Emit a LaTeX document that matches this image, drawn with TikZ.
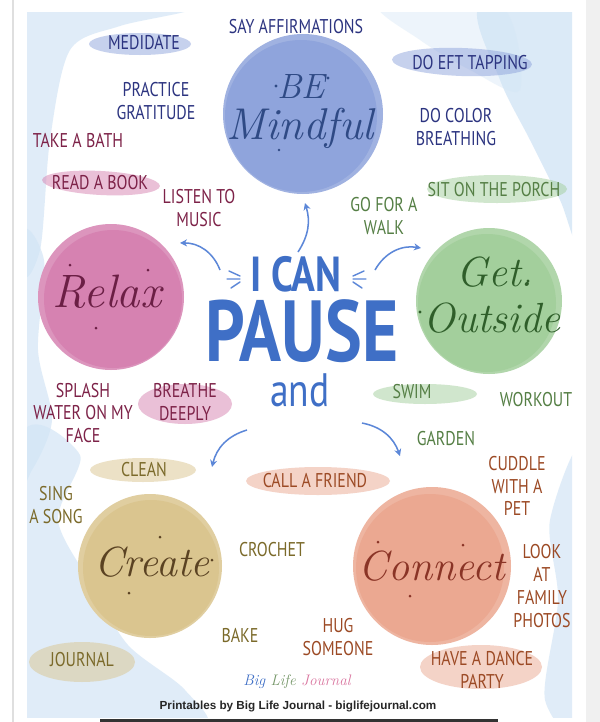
\documentclass[tikz,border=0pt]{standalone}
\usepackage{fontspec}
\usepackage{tikz}
\usetikzlibrary{arrows.meta,calc,positioning}
\newfontfamily\handfont[FakeStretch=0.8]{PT Sans}
\newfontfamily\footfont{Liberation Sans}

\definecolor{sky}{HTML}{D3E5F6}
\definecolor{pauseblue}{HTML}{3F6FC6}
\definecolor{arrowblue}{HTML}{5C87D8}
\definecolor{mindfill}{HTML}{8FA4DC}
\definecolor{mindtext}{HTML}{2C3480}
\definecolor{mindtitle}{HTML}{2F4A85}
\definecolor{relaxfill}{HTML}{D682B1}
\definecolor{relaxtext}{HTML}{7D2248}
\definecolor{relaxtitle}{HTML}{6B1F45}
\definecolor{outfill}{HTML}{A3CF9C}
\definecolor{outtext}{HTML}{557F45}
\definecolor{outtitle}{HTML}{2F5E2A}
\definecolor{createfill}{HTML}{DAC58F}
\definecolor{createtext}{HTML}{7B6A2A}
\definecolor{createtitle}{HTML}{5A4222}
\definecolor{connfill}{HTML}{EBA891}
\definecolor{conntext}{HTML}{9C4A25}
\definecolor{conntitle}{HTML}{8A3426}

\begin{document}
\begin{tikzpicture}[
  x=0.03cm, y=-0.03cm,
  >=Stealth,
  item/.style={font=\handfont\fontsize{17}{19.5}\selectfont,align=center,inner sep=0pt},
  minditem/.style={item,text=mindtext},
  relaxitem/.style={item,text=relaxtext},
  outitem/.style={item,text=outtext},
  createitem/.style={item,text=createtext},
  connitem/.style={item,text=conntext},
  title/.style={font=\itshape\fontsize{36}{36}\selectfont,inner sep=0pt},
  centreword/.style={text=pauseblue,inner sep=0pt,text depth=0pt},
  flow/.style={draw=arrowblue,line width=1.3pt,-{Stealth[length=6pt,width=6pt]}},
  brush/.style={opacity=0.5}
]
  \useasboundingbox (0,0) rectangle (600,722);

  % Page around the poster
  \fill[white] (0,0) rectangle (600,722);
  \fill[gray!12] (586,0) rectangle (600,722);
  \draw[gray!25,line width=1pt] (13,0) -- (13,722);
  \fill[black!80] (100,719) rectangle (498,722);

  % Watercolour background
  \begin{scope}
    \clip (27,12) rectangle (572,717);
    \fill[white] (27,12) rectangle (572,717);
    \fill[sky,opacity=.7] plot[smooth cycle] coordinates
      {(20,5) (190,8) (120,26) (70,50) (50,140) (40,250) (20,262)};
    \fill[sky,opacity=.8] plot[smooth cycle] coordinates
      {(480,5) (585,5) (585,250) (560,200) (530,140) (500,80)};
    \fill[sky,opacity=.4] plot[smooth cycle] coordinates
      {(380,5) (500,5) (520,90) (470,70) (420,40)};
    \fill[sky,opacity=.7] plot[smooth cycle] coordinates
      {(20,240) (44,260) (38,350) (52,420) (32,470) (20,470)};
    \fill[sky,opacity=.7] plot[smooth cycle] coordinates
      {(20,440) (80,455) (58,520) (92,585) (128,645) (185,690) (200,730) (20,730)};
    \fill[sky,opacity=.7] plot[smooth cycle] coordinates
      {(585,450) (550,520) (558,600) (545,700) (585,725)};
  \end{scope}

  % Circles
  \fill[mindfill!85] (303,114) circle (80);
  \fill[mindfill] (301,116) circle (76);
  \fill[relaxfill!85] (111,297) circle (73);
  \fill[relaxfill] (113,299) circle (69);
  \fill[outfill!85] (489,301) circle (73);
  \fill[outfill] (487,303) circle (69);
  \fill[createfill!85] (150,566) circle (72);
  \fill[createfill] (151,568) circle (68);
  \fill[connfill!85] (432,566) circle (79);
  \fill[connfill] (430,568) circle (74);

  % Circle titles
  \node[title,text=mindtitle,font=\itshape\fontsize{30}{30}\selectfont] (be) at (301,86) {BE};
  \node[title,text=mindtitle,font=\itshape\fontsize{38}{38}\selectfont] (mindful) at (300,128) {Mindful};
  \node[title,text=relaxtitle,font=\itshape\fontsize{40}{40}\selectfont] (relax) at (107,292) {Relax};
  \node[title,text=outtitle] (get) at (495,272) {Get.};
  \node[title,text=outtitle] (outside) at (492,318) {Outside};
  \node[title,text=createtitle] (create) at (152,562) {Create};
  \node[title,text=conntitle] (connect) at (432,566) {Connect};

  % Small dots round the titles
  \fill[mindtitle] (276,86) circle (1.6) (328,78) circle (1.6) (279,150) circle (1.4);
  \fill[relaxtitle] (70,265) circle (1.5) (148,270) circle (1.5) (96,328) circle (1.5);
  \fill[outtitle] (528,281) circle (1.6) (420,312) circle (1.6);
  \fill[createtitle] (160,537) circle (1.5) (212,560) circle (1.5) (129,593) circle (1.5);
  \fill[conntitle] (378,542) circle (1.5) (463,545) circle (1.5) (410,596) circle (1.5);

  % Centre words
  \node[centreword,font=\handfont\bfseries\fontsize{42}{42}\selectfont,text height=29pt] (ican) at (296,275) {I CAN};
  \node[centreword,font=\handfont\bfseries\fontsize{74}{74}\selectfont,text height=51pt] (pause) at (302,332) {PAUSE};
  \node[centreword,font=\handfont\fontsize{40}{40}\selectfont,text height=28pt] (and) at (300,390) {and};

  % Marks beside I CAN
  \draw[arrowblue,line width=1.2pt,line cap=round]
    (240,276) -- (229,271) (240,279) -- (227,279) (240,282) -- (231,288)
    (353,276) -- (364,271) (353,279) -- (366,279) (353,282) -- (362,288);

  % Arrows out of the centre
  \coordinate (upA) at (298,252);
  \coordinate (upB) at (305,203);
  \coordinate (leftA) at (220,270);
  \coordinate (leftB) at (180,243);
  \coordinate (rightA) at (375,270);
  \coordinate (rightB) at (421,248);
  \coordinate (dlA) at (247,430);
  \coordinate (dlB) at (212,467);
  \coordinate (drA) at (362,423);
  \coordinate (drB) at (400,456);
  \draw[flow] (upA) to[bend right=25] (upB);
  \draw[flow] (leftA) to[bend right=35] (leftB);
  \draw[flow] (rightA) to[bend left=35] (rightB);
  \draw[flow] (dlA) to[bend right=30] (dlB);
  \draw[flow] (drA) to[bend left=30] (drB);

  % Brush strokes behind some labels
  \fill[mindfill,brush] (140,44) ellipse (51 and 11);
  \fill[mindfill,brush,rotate around={-2:(462,62)}] (462,62) ellipse (70 and 14);
  \fill[relaxfill,brush,rotate around={-3:(101,183)}] (101,183) ellipse (59 and 12);
  \fill[relaxfill,brush] (185,404) ellipse (47 and 20);
  \fill[outfill,brush] (497,189) ellipse (70 and 14);
  \fill[outfill,brush] (425,394) ellipse (52 and 10);
  \fill[createfill,brush] (143,470) ellipse (53 and 12);
  \fill[createfill,brush] (82,662) ellipse (53 and 20);
  \fill[connfill,brush] (318,481) ellipse (72 and 14);
  \fill[connfill,brush] (481,667) ellipse (61 and 22);

  % Be mindful
  \node[minditem] (affirm) at (296,27) {SAY AFFIRMATIONS};
  \node[minditem] (meditate) at (144,43) {MEDIDATE};
  \node[minditem] (eft) at (470,63) {DO EFT TAPPING};
  \node[minditem] (gratitude) at (156,101) {PRACTICE\\GRATITUDE};
  \node[minditem] (colour) at (456,127) {DO COLOR\\BREATHING};

  % Relax
  \node[relaxitem] (bath) at (78,140) {TAKE A BATH};
  \node[relaxitem] (book) at (100,183) {READ A BOOK};
  \node[relaxitem] (music) at (199,208) {LISTEN TO\\MUSIC};
  \node[relaxitem] (splash) at (83,413) {SPLASH\\WATER ON MY\\FACE};
  \node[relaxitem] (breathe) at (185,402) {BREATHE\\DEEPLY};

  % Get outside
  \node[outitem] (walk) at (384,216) {GO FOR A\\WALK};
  \node[outitem] (porch) at (494,190) {SIT ON THE PORCH};
  \node[outitem] (swim) at (412,392) {SWIM};
  \node[outitem] (workout) at (536,400) {WORKOUT};
  \node[outitem] (garden) at (446,439) {GARDEN};

  % Create
  \node[createitem] (clean) at (144,470) {CLEAN};
  \node[createitem] (sing) at (56,505) {SING\\A SONG};
  \node[createitem] (crochet) at (272,550) {CROCHET};
  \node[createitem] (bake) at (240,635) {BAKE};
  \node[createitem] (journal) at (82,660) {JOURNAL};

  % Connect
  \node[connitem] (friend) at (315,481) {CALL A FRIEND};
  \node[connitem] (cuddle) at (517,486) {CUDDLE\\WITH A\\PET};
  \node[connitem] (photos) at (542,586) {LOOK\\AT\\FAMILY\\PHOTOS};
  \node[connitem] (hug) at (338,637) {HUG\\SOMEONE};
  \node[connitem] (dance) at (482,670) {HAVE A DANCE\\PARTY};

  % Footer
  \node[font=\itshape\fontsize{13}{13}\selectfont,inner sep=0pt] (logo) at (297,682)
    {\textcolor{pauseblue}{Big} \textcolor{outtext!80}{Life} \textcolor{relaxfill!90!red}{Journal}};
  \node[font=\footfont\bfseries\fontsize{10}{10}\selectfont,text=black!85,inner sep=0pt] (credit) at (298,706)
    {Printables by Big Life Journal - biglifejournal.com};
\end{tikzpicture}
\end{document}
